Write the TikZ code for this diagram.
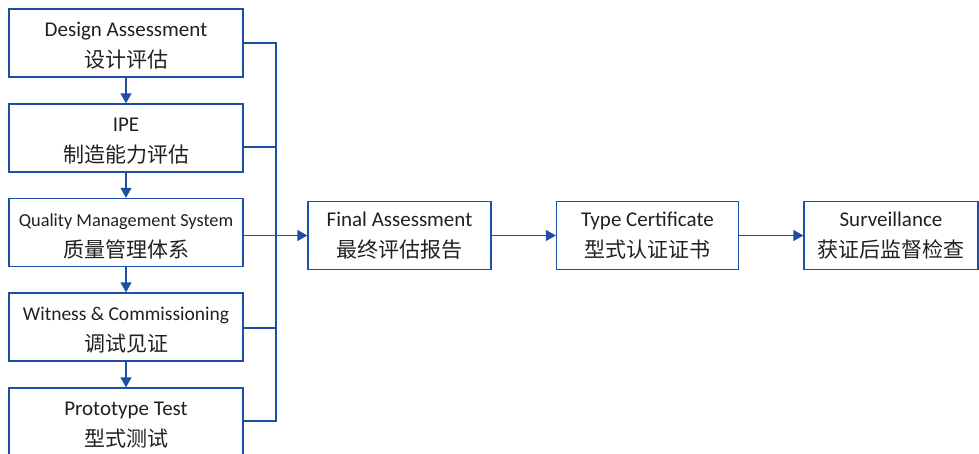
\documentclass[tikz,border=0pt]{standalone}
\usepackage{fontspec}
\setmainfont{Carlito}
\newfontfamily\cjk{Noto Sans CJK SC}
\usetikzlibrary{arrows.meta}
\definecolor{flowblue}{HTML}{1F4FA3}
\definecolor{ink}{HTML}{231F20}
% invisible strut that lowers the two text lines a little
\newcommand\liftline{\rule{0pt}{20pt}}

\begin{document}
\begin{tikzpicture}[x=1pt,y=-1pt,
  box/.style={draw=flowblue, line width=1.3pt, minimum height=68pt,
    align=center, inner sep=0pt, text=ink,
    font=\fontsize{21}{31}\selectfont},
  stagebox/.style={box, minimum width=234pt},
  link/.style={draw=flowblue, line width=1.3pt},
  arr/.style={link, -{Triangle[length=10pt,width=11pt]}}]
\useasboundingbox (0,0) rectangle (979,453);

% left column: assessment stages
\node[stagebox] (de)  at (126,43)    {\liftline Design Assessment\\{\cjk 设计评估}};
\node[stagebox] (ipe) at (126,138)   {\liftline IPE\\{\cjk 制造能力评估}};
\node[stagebox] (qms) at (126,232.5) {\liftline{\fontsize{18.3}{31}\selectfont Quality Management System}\\{\cjk 质量管理体系}};
\node[stagebox] (wc)  at (126,327)   {\liftline{\fontsize{19.5}{31}\selectfont Witness \& Commissioning}\\{\cjk 调试见证}};
\node[stagebox] (pt)  at (126,422)   {\liftline Prototype Test\\{\cjk 型式测试}};

% main row
\node[box, minimum width=183pt] (fin) at (399.5,235.5) {Final Assessment\\{\cjk 最终评估报告}};
\node[box, minimum width=182pt] (tc)  at (647.5,235.5) {Type Certificate\\{\cjk 型式认证证书}};
\node[box, minimum width=174pt] (sv)  at (891,235.5)   {Surveillance\\{\cjk 获证后监督检查}};

% sequence down the left column
\draw[arr] (de) -- (ipe);
\draw[arr] (ipe) -- (qms);
\draw[arr] (qms) -- (wc);
\draw[arr] (wc) -- (pt);

% collecting bus on the right of the column
\coordinate (bus) at (276,0);
\path (ipe.east) ++(0,9) coordinate (ipeout);
\path (pt.east) ++(0,-1) coordinate (ptout);
\draw[link] (de.east) -- (de.east -| bus) -- (ptout -| bus) -- (ptout);
\draw[link] (ipeout) -- (ipeout -| bus);
\draw[link] (wc.east) ++(0,1) coordinate (wcout) -- (wcout -| bus);
\draw[arr] (qms.east |- fin.west) -- (fin.west);

% main flow
\draw[arr] (fin) -- (tc);
\draw[arr] (tc) -- (sv);
\end{tikzpicture}
\end{document}
